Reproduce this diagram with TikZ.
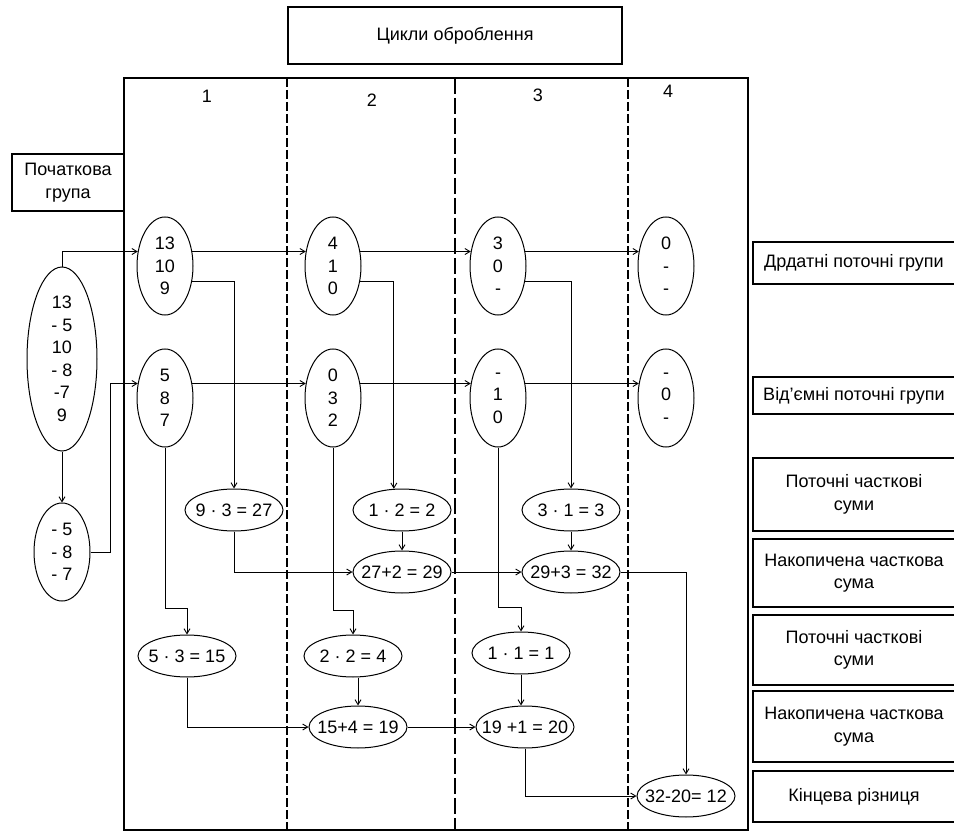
\documentclass[tikz,border=0pt]{standalone}
\usepackage{fontspec}
\setmainfont{Liberation Sans}
\usetikzlibrary{shapes.geometric,arrows.meta}
\begin{document}
\begin{tikzpicture}[x=1pt,y=-1pt,
  every node/.style={font=\fontsize{18}{22.5}\selectfont},
  oval/.style={draw,ellipse,line width=1pt,align=center},
  grp/.style={oval,inner xsep=0pt,inner ysep=-10pt,minimum width=56pt,minimum height=98pt},
  calc/.style={oval,inner xsep=-20pt,inner ysep=0pt,minimum width=98pt,minimum height=42pt},
  lab/.style={draw,line width=1.1pt,align=center,inner sep=0pt},
  arr/.style={line width=0.9pt,-{Straight Barb[length=5pt,width=6pt]}},
  frame/.style={line width=1.4pt},
  thickdash/.style={line width=2.3pt,dash pattern=on 9pt off 3pt},
  thindash/.style={line width=1.2pt,dash pattern=on 16pt off 4pt}]
\useasboundingbox (0,0) rectangle (954,832);

% title and frame
\node[lab,minimum width=334pt,minimum height=57pt] (title) at (455,35.5) {Цикли оброблення};
\draw[frame] (124,78) rectangle (748,830);
\draw[thickdash] (287,78) -- (287,830);
\draw[thindash] (455,78) -- (455,830);
\draw[thickdash] (628,78) -- (628,830);
\node (h1) at (207,96) {1};
\node (h2) at (372,100) {2};
\node (h3) at (538,95) {3};
\node (h4) at (668,91) {4};
\node[lab,minimum width=112pt,minimum height=57pt] (start) at (68,182.5) {Початкова\\група};

% initial groups
\node[grp,minimum width=70pt,minimum height=184pt] (g0) at (62,359) {13\\- 5\\10\\- 8\\-7\\9};
\node[grp] (gn0) at (62,552) {- 5\\- 8\\- 7};

% cycle groups
\node[grp] (a1) at (165,266) {13\\10\\9};
\node[grp] (b1) at (165,398) {5\\8\\7};
\node[grp] (a2) at (333,266) {4\\1\\0};
\node[grp] (b2) at (333,398) {0\\3\\2};
\node[grp] (a3) at (498,266) {3\\0\\-};
\node[grp] (b3) at (498,398) {-\\1\\0};
\node[grp] (a4) at (666,266) {0\\-\\-};
\node[grp] (b4) at (666,398) {-\\0\\-};

% partial sums
\node[calc] (m1) at (234,510) {9 · 3 = 27};
\node[calc] (m2) at (402,510) {1 · 2 = 2};
\node[calc] (m3) at (571,510) {3 · 1 = 3};
\node[calc] (s1) at (402,572) {27+2 = 29};
\node[calc] (s2) at (571,572) {29+3 = 32};
\node[calc] (p1) at (187,656) {5 · 3 = 15};
\node[calc] (p2) at (353,656) {2 · 2 = 4};
\node[calc] (p3) at (521,653) {1 · 1 = 1};
\node[calc] (q1) at (358,727) {15+4 = 19};
\node[calc] (q2) at (525,727) {19 +1 = 20};
\node[calc] (f) at (686,796) {32-20= 12};

% right labels
\node[lab,minimum width=202pt,minimum height=42pt] (r1) at (854,263) {Дрдатні поточні групи};
\node[lab,minimum width=202pt,minimum height=37pt] (r2) at (854,395.5) {Від'ємні поточні групи};
\node[lab,minimum width=202pt,minimum height=73pt] (r3) at (854,494.5) {Поточні часткові\\суми};
\node[lab,minimum width=202pt,minimum height=68pt] (r4) at (854,573) {Накопичена часткова\\сума};
\node[lab,minimum width=202pt,minimum height=70pt] (r5) at (854,650) {Поточні часткові\\суми};
\node[lab,minimum width=202pt,minimum height=71pt] (r6) at (854,726.5) {Накопичена часткова\\сума};
\node[lab,minimum width=202pt,minimum height=51pt] (r7) at (854,796.5) {Кінцева різниця};

% connectors
\coordinate (j0) at (110,552);
\coordinate (j1) at (187,608);
\coordinate (j2) at (353,610);
\coordinate (j3) at (521,607);
\draw[arr] (g0.north) |- (a1.152);
\draw[arr] (g0.south) -- (gn0.north);
\draw[arr] (gn0.east) -- (j0) |- (b1.152);
\draw[arr] (a1.28) -- (a2.152);
\draw[arr] (a2.28) -- (a3.152);
\draw[arr] (a3.28) -- (a4.152);
\draw[arr] (b1.28) -- (b2.152);
\draw[arr] (b2.28) -- (b3.152);
\draw[arr] (b3.28) -- (b4.152);
\draw[arr] (a1.-30) -| (m1.north);
\draw[arr] (a2.-30) -| (m2.111);
\draw[arr] (a3.-30) -| (m3.north);
\draw[arr] (b1.south) |- (j1) -- (p1.north);
\draw[arr] (b2.south) |- (j2) -- (p2.north);
\draw[arr] (b3.south) |- (j3) -- (p3.north);
\draw[arr] (m1.south) |- (s1.west);
\draw[arr] (m2.south) -- (s1.north);
\draw[arr] (s1.east) -- (s2.west);
\draw[arr] (m3.south) -- (s2.north);
\draw[arr] (s2.east) -| (f.north);
\draw[arr] (p1.south) |- (q1.west);
\draw[arr] (p2.south -| q1.north) -- (q1.north);
\draw[arr] (q1.east) -- (q2.west);
\draw[arr] (p3.south) -- (p3.south |- q2.north);
\draw[arr] (q2.south) |- (f.west);
\end{tikzpicture}
\end{document}
